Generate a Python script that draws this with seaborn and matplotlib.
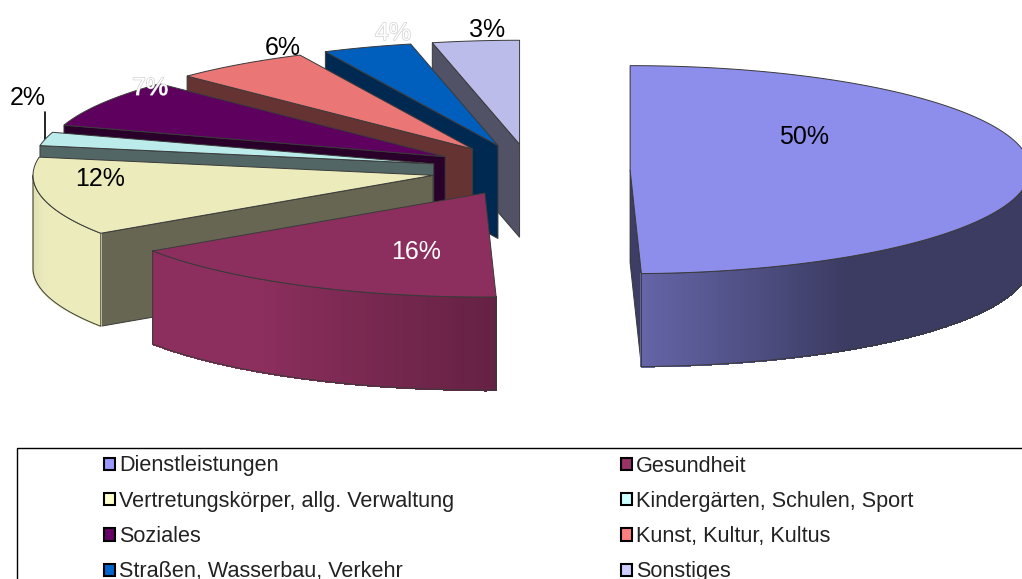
import numpy as np
import matplotlib
matplotlib.use("Agg")
import matplotlib.pyplot as plt
import matplotlib.patheffects as pe
from matplotlib.collections import PolyCollection
from matplotlib.patches import Patch, Polygon, Rectangle
import seaborn as sns

categories = ["Dienstleistungen", "Gesundheit", "Vertretungskörper, allg. Verwaltung",
              "Kindergärten, Schulen, Sport", "Soziales", "Kunst, Kultur, Kultus",
              "Straßen, Wasserbau, Verkehr", "Sonstiges"]
# unrounded shares
values = [49.55, 16.05, 12.2, 2.1, 7.45, 5.55, 3.6, 3.5]
value_labels = ["50%", "16%", "12%", "2%", "7%", "6%", "4%", "3%"]
colors = ["#9999FF", "#993366", "#FFFFCC", "#CCFFFF", "#660066", "#FF8080", "#0066CC", "#CCCCFF"]
label_colors = ["black", "white", "black", "black", "white", "black", "white", "black"]

# Layout in pixels of the picture
CX, CY = 530.5, 170
RX, RY = 400, 104
DEPTH = 93
EXPLODE = 0.249
LABEL_XY = [(804, 136.5), (416, 252), (100, 179), (28, 98), (150, 88), (283, 48), (393, 33), (487, 30)]
EDGE = "#3a3a3a"

sns.set_theme(style="white")
plt.rcParams["font.family"] = ["Liberation Sans", "DejaVu Sans"]


def shade(theta):
    # Helligkeit der Aussenwand je nach Winkel
    return np.interp(theta, [90, 148, 179, 215, 255, 270], [0.39, 0.39, 0.66, 0.92, 0.92, 0.87])


def rim(cx, cy, theta):
    t = np.radians(theta)
    return np.column_stack([cx + RX * np.sin(t), cy - RY * np.cos(t)])


def draw_slice(ax, value, start, color):
    end = start + value * 3.6
    mid = np.radians((start + end) / 2)
    cx = CX + EXPLODE * RX * np.sin(mid)
    cy = CY - EXPLODE * RY * np.cos(mid)
    rgb = np.array(matplotlib.colors.to_rgb(color))
    apex = np.array([cx, cy])
    drop = np.array([0, DEPTH])

    # radial walls that face the viewer
    start_visible = start > 180 or start == 0
    end_visible = end < 180
    for edge_angle, visible in ((start, start_visible), (end, end_visible)):
        if visible:
            outer = rim(cx, cy, np.array([edge_angle]))[0]
            ax.add_patch(Polygon([outer, apex, apex + drop, outer + drop], closed=True,
                                 facecolor=rgb * 0.4, edgecolor=EDGE, lw=0.7, zorder=2))

    # outer wall with the gradient, only front part of the ellipse
    lo, hi = max(start, 90), min(end, 270)
    if lo < hi:
        angles = np.linspace(lo, hi, int((hi - lo) * 4) + 2)
        pts = rim(cx, cy, angles)
        quads = [[pts[i], pts[i + 1], pts[i + 1] + drop, pts[i] + drop] for i in range(len(pts) - 1)]
        shades = [shade((angles[i] + angles[i + 1]) / 2) for i in range(len(pts) - 1)]
        cols = [tuple(np.clip(rgb * s, 0, 1)) for s in shades]
        ax.add_collection(PolyCollection(quads, facecolors=cols, edgecolors=cols, linewidths=0.8,
                                         antialiaseds=False, zorder=2))
        outline = np.vstack([pts, pts[::-1] + drop])
        ax.add_patch(Polygon(outline, closed=True, fill=False, edgecolor=EDGE, lw=0.7, zorder=2))

    # top face
    arc = rim(cx, cy, np.linspace(start, end, 200))
    ax.add_patch(Polygon(np.vstack([apex, arc]), closed=True, facecolor=rgb * 0.92,
                         edgecolor=EDGE, lw=0.7, zorder=2))


fig = plt.figure(figsize=(10.22, 5.79), dpi=100)
ax = fig.add_axes([0, 0, 1, 1])
ax.set_xlim(0, 1022)
ax.set_ylim(579, 0)
ax.axis("off")

starts = np.cumsum([0] + values[:-1]) * 3.6
# von hinten nach vorne zeichnen
for i in [0, 7, 6, 5, 4, 3, 2, 1]:
    draw_slice(ax, values[i], starts[i], colors[i])

for lab, xy, c in zip(value_labels, LABEL_XY, label_colors):
    t = ax.text(xy[0], xy[1], lab, color=c, fontsize=18, ha="center", va="center", zorder=5)
    # 7% und 4% liegen auf weissem Grund
    if lab in ("7%", "4%"):
        t.set_path_effects([pe.withStroke(linewidth=0.8, foreground="#c8c8c8")])

# leader line of the 2% label
ax.plot([45, 45], [112, 143], color="black", lw=1.2, zorder=1)

ax.add_patch(Rectangle((17, 448), 1100, 200, facecolor="white", edgecolor="black", lw=1, zorder=1))
order = [0, 2, 4, 6, 1, 3, 5, 7]
handles = [Patch(facecolor=colors[i], edgecolor="black", lw=1.5, label=categories[i]) for i in order]
leg = ax.legend(handles=handles, ncol=2, frameon=False, fontsize=15.6, loc="upper left",
                bbox_to_anchor=(104, 455.5), bbox_transform=ax.transData, borderpad=0, borderaxespad=0,
                handlelength=0.5, handleheight=0.5, handletextpad=0.2,
                labelspacing=0.66, columnspacing=7.68, labelcolor="#222222")

fig.savefig("out.png", dpi=100)
